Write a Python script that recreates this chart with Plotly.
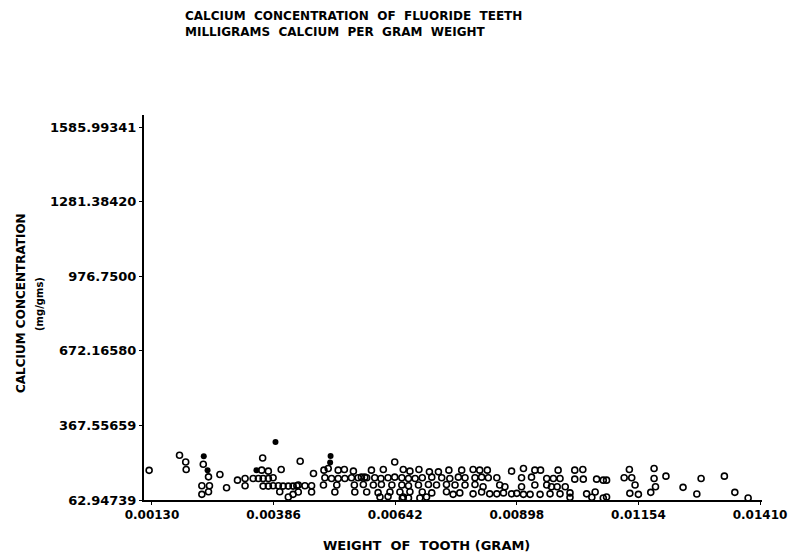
import plotly.graph_objects as go

# Tick labels / values as printed on the chart
x_ticks = [0.00130, 0.00386, 0.00642, 0.00898, 0.01154, 0.01410]
x_tick_text = ["0.00130", "0.00386", "0.00642", "0.00898", "0.01154", "0.01410"]
y_ticks = [62.94739, 367.55659, 672.16580, 976.7500, 1281.38420, 1585.99341]
y_tick_text = ["62.94739", "367.55659", "672.16580", "976.7500", "1281.38420", "1585.99341"]

# Open-circle observations: weight of tooth (gram), calcium concentration (mg/gm)
weight = [
    0.00124, 0.00188, 0.00201, 0.00202, 0.00238, 0.00249, 0.00235, 0.00251, 0.00249, 0.00235,
    0.00273, 0.00287, 0.00310, 0.00326, 0.00326, 0.00343, 0.00361, 0.00375, 0.00354, 0.00364,
    0.00375, 0.00385, 0.00363, 0.00402,
    0.00364, 0.00375, 0.00385, 0.00396, 0.00406, 0.00417, 0.00427, 0.00435,
    0.00399, 0.00417, 0.00427, 0.00438, 0.00442,
    0.00501, 0.00492, 0.00470, 0.00522, 0.00535, 0.00554,
    0.00494, 0.00508, 0.00522, 0.00536, 0.00550, 0.00564, 0.00578, 0.00592, 0.00617,
    0.00641, 0.00659, 0.00673, 0.00692, 0.00714, 0.00733, 0.00755,
    0.00571, 0.00582, 0.00599, 0.00612, 0.00627, 0.00641, 0.00656, 0.00670, 0.00684, 0.00699,
    0.00719, 0.00740, 0.00757,
    0.00438, 0.00452, 0.00466, 0.00491, 0.00519, 0.00556, 0.00575, 0.00596, 0.00613, 0.00635,
    0.00656, 0.00670, 0.00691, 0.00712, 0.00729, 0.00750,
    0.00466, 0.00515, 0.00557, 0.00582, 0.00606, 0.00631, 0.00652, 0.00673, 0.00699, 0.00719,
    0.00750,
    0.00610, 0.00627, 0.00659, 0.00694, 0.00708, 0.00657, 0.00670,
    0.00782, 0.00806, 0.00820, 0.00836,
    0.00887, 0.00912, 0.00936, 0.00948, 0.00985, 0.01020, 0.01037,
    0.00775, 0.00789, 0.00810, 0.00824, 0.00838, 0.00856, 0.00908, 0.00929, 0.00961, 0.00975,
    0.00989, 0.01020, 0.01038, 0.01066, 0.01080,
    0.00768, 0.00789, 0.00810, 0.00827, 0.00862, 0.00873, 0.00908, 0.00936, 0.00961, 0.00971,
    0.00983, 0.01000,
    0.00764, 0.00778, 0.00806, 0.00824, 0.00841, 0.00856, 0.00870, 0.00887, 0.00898, 0.00912,
    0.00926, 0.00947, 0.00968, 0.00989, 0.01010, 0.01045, 0.01063,
    0.01080, 0.01010, 0.01056,
    0.01087, 0.01087, 0.01135, 0.01124, 0.01140, 0.01147, 0.01136, 0.01154, 0.01187, 0.01187,
    0.01190, 0.01180, 0.01212, 0.01248, 0.01277, 0.01286, 0.01335, 0.01357, 0.01385,
]
calcium = [
    184.0, 245.7, 218.4, 187.6, 209.1, 157.5, 121.0, 121.0, 96.6, 86.1,
    167.3, 112.9, 144.1, 151.0, 121.0, 151.0, 184.8, 180.7, 151.0, 151.0,
    151.0, 153.5, 234.7, 187.6,
    119.8, 119.8, 121.0, 121.0, 119.8, 119.8, 119.8, 121.0,
    96.6, 75.1, 86.1, 95.4, 221.3,
    191.7, 184.8, 171.4, 184.8, 187.6, 180.7,
    153.5, 151.0, 151.0, 151.0, 153.5, 153.5, 156.3, 184.8, 187.6,
    218.4, 187.6, 180.7, 187.6, 177.8, 177.8, 184.8,
    156.3, 153.5, 153.5, 151.0, 153.5, 156.3, 153.5, 151.0, 151.0, 153.5,
    156.3, 153.5, 151.0,
    123.9, 121.0, 121.0, 123.9, 123.9, 123.9, 126.0, 123.9, 126.0, 123.9,
    123.9, 121.0, 123.9, 126.0, 123.9, 126.0,
    95.4, 95.4, 95.4, 95.4, 93.0, 95.4, 95.4, 96.6, 95.4, 92.0,
    96.6,
    75.1, 77.0, 75.1, 71.1, 75.1, 70.5, 71.5,
    184.8, 187.6, 184.8, 184.8,
    180.7, 191.7, 184.8, 184.8, 184.8, 184.8, 187.6,
    156.3, 153.5, 153.5, 156.3, 153.5, 153.5, 153.5, 156.3, 151.0, 151.0,
    151.0, 148.0, 148.0, 148.0, 144.1,
    123.9, 123.9, 126.0, 117.0, 123.9, 117.0, 117.0, 123.9, 123.9, 117.0,
    117.0, 117.0,
    86.1, 92.0, 88.0, 95.4, 88.0, 88.0, 92.0, 88.0, 90.2, 86.1,
    86.1, 86.1, 88.0, 88.0, 92.0, 88.0, 95.4,
    71.1, 74.0, 74.0,
    144.1, 75.1, 187.6, 153.5, 153.5, 123.9, 90.2, 86.1, 191.7, 151.0,
    117.0, 94.2, 160.4, 114.5, 87.3, 151.0, 160.4, 94.2, 71.1,
]

# Solid (filled) observations
weight_filled = [0.00390, 0.00239, 0.00247, 0.00350, 0.00506, 0.00505]
calcium_filled = [299.6, 241.6, 184.8, 184.8, 242.8, 216.0]

FONT = "DejaVu Sans"

fig = go.Figure()
fig.add_trace(go.Scatter(
    x=weight, y=calcium, mode="markers", cliponaxis=False,
    marker=dict(symbol="circle-open", size=6, color="black", line=dict(width=1.6, color="black")),
    showlegend=False,
))
fig.add_trace(go.Scatter(
    x=weight_filled, y=calcium_filled, mode="markers", cliponaxis=False,
    marker=dict(symbol="circle", size=6, color="black"),
    showlegend=False,
))

PL, PT, PW, PH = 144, 115, 618, 385


def px(xpix):
    return (xpix - PL) / PW


def py(ypix):
    return (PT + PH - ypix) / PH


fig.update_layout(
    width=788, height=555,
    margin=dict(l=PL, r=788 - PL - PW, t=PT, b=555 - PT - PH, autoexpand=False),
    paper_bgcolor="white", plot_bgcolor="white",
    xaxis=dict(
        range=[0.001132, 0.014142],
        tickvals=x_ticks, ticktext=x_tick_text,
        showgrid=False, zeroline=False,
        showline=True, linecolor="black", linewidth=2,
        ticks="outside", ticklen=3, tickwidth=1, tickcolor="black",
        tickfont=dict(family=FONT, size=12, color="black", weight="bold"),
    ),
    yaxis=dict(
        range=[62.94739, 1635.0],
        tickvals=y_ticks, ticktext=y_tick_text,
        showgrid=False, zeroline=False,
        showline=True, linecolor="black", linewidth=2,
        ticks="outside", ticklen=3, tickwidth=1, tickcolor="black",
        tickfont=dict(family=FONT, size=13, color="black", weight="bold"),
    ),
    annotations=[
        dict(text="CALCIUM\u00a0\u00a0CONCENTRATION\u00a0\u00a0OF\u00a0\u00a0FLUORIDE\u00a0\u00a0TEETH<br>"
                  "MILLIGRAMS\u00a0\u00a0CALCIUM\u00a0\u00a0PER\u00a0\u00a0GRAM\u00a0\u00a0WEIGHT",
             xref="paper", yref="paper", x=px(183), y=py(7), xanchor="left", yanchor="top",
             align="left", showarrow=False,
             font=dict(family=FONT, size=12, color="black", weight="bold")),
        dict(text="WEIGHT\u00a0\u00a0OF\u00a0\u00a0TOOTH\u00a0(GRAM)", xref="paper", yref="paper",
             x=px(426), y=py(545), xanchor="center", yanchor="middle", showarrow=False,
             font=dict(family=FONT, size=13, color="black", weight="bold")),
        dict(text="CALCIUM\u00a0CONCENTRATION", xref="paper", yref="paper",
             x=px(21), y=py(303), xanchor="center", yanchor="middle",
             textangle=-90, showarrow=False,
             font=dict(family=FONT, size=12, color="black", weight="bold")),
        dict(text="(mg/gms)", xref="paper", yref="paper",
             x=px(39), y=py(304), xanchor="center", yanchor="middle",
             textangle=-90, showarrow=False,
             font=dict(family=FONT, size=10, color="black", weight="bold")),
    ],
)

fig.write_html("out.html")
